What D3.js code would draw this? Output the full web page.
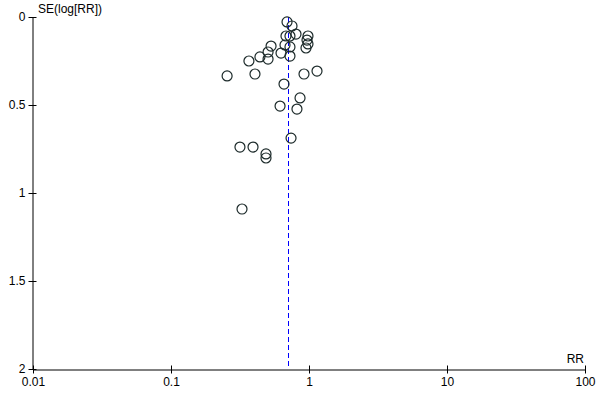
<!DOCTYPE html>
<html>
<head>
<meta charset="utf-8">
<script src="https://cdn.jsdelivr.net/npm/d3@7"></script>
<style>
  html, body { margin: 0; padding: 0; background: #fff; }
  svg text { font-family: "Liberation Sans", Arial, sans-serif; font-size: 12px; fill: #000; }
</style>
</head>
<body>
<svg id="chart" width="600" height="400"></svg>
<script>
// Study risk ratios and their standard errors of log(RR)
const rr = [0.693, 0.753, 0.805, 0.681, 0.728, 0.983, 0.967, 0.983, 0.951, 0.531,
            0.670, 0.728, 0.505, 0.627, 0.728, 0.441, 0.505, 0.367, 0.255, 0.406,
            0.920, 1.143, 0.659, 0.861, 0.617, 0.818, 0.741, 0.316, 0.393, 0.488,
            0.488, 0.327];
const se = [0.028, 0.051, 0.097, 0.108, 0.108, 0.108, 0.131, 0.153, 0.176, 0.165,
            0.159, 0.170, 0.199, 0.205, 0.222, 0.227, 0.239, 0.250, 0.335, 0.324,
            0.324, 0.307, 0.381, 0.460, 0.506, 0.523, 0.688, 0.739, 0.739, 0.778,
            0.801, 1.091];
const pooledRR = 0.71;
const xTicks = [0.01, 0.1, 1, 10, 100];
const xTickLabels = ["0.01", "0.1", "1", "10", "100"];
const yTicks = [0, 0.5, 1, 1.5, 2];
const yTickLabels = ["0", "0.5", "1", "1.5", "2"];
const xTitle = "RR";
const yTitle = "SE(log[RR])";

const svg = d3.select("#chart");
const x = d3.scaleLog().domain([0.01, 100]).range([33, 585]);
const y = d3.scaleLinear().domain([0, 2]).range([17, 369]);

// pooled estimate line
svg.append("line")
  .attr("x1", Math.round(x(pooledRR)) + 0.5).attr("x2", Math.round(x(pooledRR)) + 0.5)
  .attr("y1", y(0)).attr("y2", y(2))
  .attr("stroke", "#0000ff").attr("stroke-width", 1)
  .attr("stroke-dasharray", "5,3");

// x axis
const xAxis = d3.axisBottom(x).tickValues(xTicks)
  .tickFormat((d, i) => xTickLabels[i]).tickSizeInner(0).tickSizeOuter(0).tickPadding(8);
const gx = svg.append("g").attr("transform", "translate(0,369.5)").call(xAxis);
gx.select(".domain").attr("stroke", "#000");
gx.selectAll(".tick line").attr("y1", -4).attr("y2", 4).attr("stroke", "#000");
gx.selectAll(".tick text").style("font-size", "12px").style("font-family", "Liberation Sans, Arial, sans-serif");

// y axis
const yAxis = d3.axisLeft(y).tickValues(yTicks)
  .tickFormat((d, i) => yTickLabels[i]).tickSizeInner(0).tickSizeOuter(0).tickPadding(7);
const gy = svg.append("g").attr("transform", "translate(32.5,0)").call(yAxis);
gy.select(".domain").attr("stroke", "#000");
gy.selectAll(".tick line").attr("x1", -4).attr("x2", 4).attr("stroke", "#000");
gy.selectAll(".tick text").style("font-size", "12px").style("font-family", "Liberation Sans, Arial, sans-serif");

// axis titles
svg.append("text").attr("x", 38).attr("y", 13).text(yTitle);
svg.append("text").attr("x", 584).attr("y", 363).attr("text-anchor", "end").text(xTitle);

// study points
svg.append("g").selectAll("circle")
  .data(rr.map((r, i) => ({ r, s: se[i] })))
  .join("circle")
  .attr("cx", d => x(d.r))
  .attr("cy", d => y(d.s))
  .attr("r", 5)
  .attr("fill", "none")
  .attr("stroke", "#1c2a2a")
  .attr("stroke-width", 1.2);
</script>
</body>
</html>
